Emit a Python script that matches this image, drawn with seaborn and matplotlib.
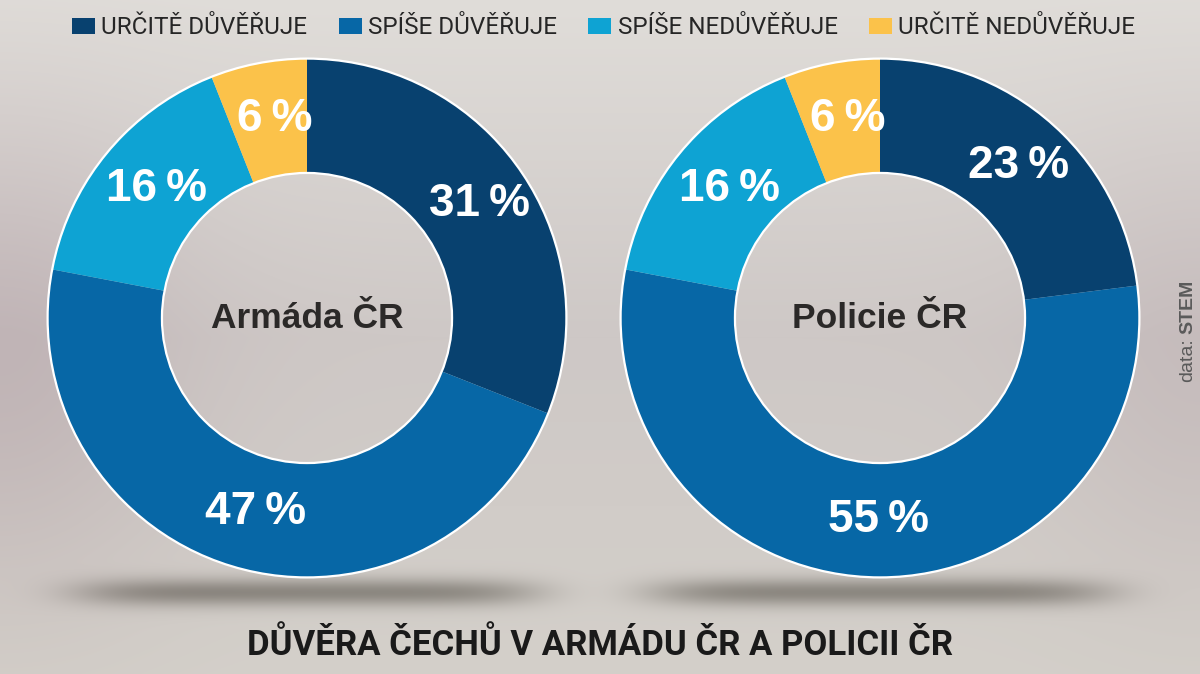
import numpy as np
import pandas as pd
import matplotlib
matplotlib.use("Agg")
import matplotlib.pyplot as plt
from matplotlib.patches import Patch, Circle
from matplotlib import font_manager as fm
import seaborn as sns

# ---- data ----
categories = ["URČITĚ DŮVĚŘUJE", "SPÍŠE DŮVĚŘUJE", "SPÍŠE NEDŮVĚŘUJE", "URČITĚ NEDŮVĚŘUJE"]
armada = [31, 47, 16, 6]
policie = [23, 55, 16, 6]
institutions = ["Armáda ČR", "Policie ČR"]
title = "DŮVĚRA ČECHŮ V ARMÁDU ČR A POLICII ČR"
source_prefix = "data: "
source_name = "STEM"

colors = ["#08416f", "#0767a6", "#0ea3d3", "#fbc24a"]

sns.set_theme(style="white")
names = {f.name for f in fm.fontManager.ttflist}
narrow = "Liberation Sans Narrow" if "Liberation Sans Narrow" in names else "Roboto"
main = "Liberation Sans" if "Liberation Sans" in names else "DejaVu Sans"
plt.rcParams["font.family"] = [main, "DejaVu Sans"]

W, H = 1200, 674
fig = plt.figure(figsize=(W / 100, H / 100), dpi=100)

# ---- background ----
yy, xx = np.mgrid[0:H, 0:W].astype(float)
top = np.array([224, 221, 217.0])
mid = np.array([206, 200, 198.0])
bot = np.array([212, 208, 202.0])
t = yy / H
bg = np.where(t[..., None] < 0.5,
              top + (mid - top) * (t[..., None] / 0.5),
              mid + (bot - mid) * ((t[..., None] - 0.5) / 0.5))
edge = np.exp(-((xx - 0) / 180) ** 2) + 0.6 * np.exp(-((xx - W) / 160) ** 2)
bg += edge[..., None] * np.array([-14, -20, -16.0]) * np.exp(-((yy - 360) / 240) ** 2)[..., None]
for cx in (307, 880):
    sh = np.exp(-((xx - cx) / 230) ** 6) * np.exp(-((yy - 592) / 14) ** 2)
    bg -= sh[..., None] * np.array([70, 70, 72.0])
bg = np.clip(bg, 0, 255) / 255
bgax = fig.add_axes([0, 0, 1, 1])
bgax.imshow(bg, aspect="auto", extent=[0, 1, 0, 1])
bgax.set_axis_off()

R_OUT = 1.0
R_IN = 146.5 / 262


def donut(values, center_px, label):
    cx, cy = center_px
    r = 262
    ax = fig.add_axes([(cx - r) / W, (H - cy - r) / H, 2 * r / W, 2 * r / H])
    df = pd.DataFrame({"cat": categories, "val": values})
    wedges, texts = ax.pie(df["val"], colors=colors, startangle=90, counterclock=False,
                           radius=R_OUT, wedgeprops=dict(width=R_OUT - R_IN, linewidth=0))
    for w, v in zip(wedges, df["val"]):
        ang = np.deg2rad((w.theta1 + w.theta2) / 2)
        rr = (R_OUT + R_IN) / 2
        ax.text(rr * np.cos(ang) + 0.02, rr * np.sin(ang), f"{v}\u2009%", ha="center", va="center",
                color="white", fontsize=33, fontweight="bold")
    ax.add_patch(Circle((0, 0), R_OUT, fill=False, ec="white", lw=1.6))
    ax.add_patch(Circle((0, 0), R_IN, fill=False, ec="white", lw=1.6))
    ax.text(0, 0, label, ha="center", va="center", fontsize=25.5, fontweight="bold", color="#2b2928")
    ax.set_xlim(-1.01, 1.01)
    ax.set_ylim(-1.01, 1.01)
    ax.set_axis_off()


donut(armada, (307, 318), institutions[0])
donut(policie, (880, 318), institutions[1])

# ---- legend ----
handles = [Patch(facecolor=c, edgecolor="none") for c in colors]
fig.legend(handles, categories, loc="center", bbox_to_anchor=(0.503, 1 - 28 / H), ncol=4,
           frameon=False, prop=dict(family=[narrow, "DejaVu Sans"], size=17.5),
           handlelength=0.95, handleheight=0.65, handletextpad=0.25, columnspacing=1.3)

# ---- title ----
fig.text(0.5, 1 - 645 / H, title, ha="center", va="center", fontsize=25, fontweight="bold",
         family=[narrow, "DejaVu Sans"], color="#1a1a1a")

# ---- source ----
fig.text(1188 / W, 1 - 338 / H, source_prefix.strip(), rotation=90, ha="center", va="top",
         fontsize=14, color="#5a5a5a")
fig.text(1188 / W, 1 - 334 / H, source_name, rotation=90, ha="center", va="bottom",
         fontsize=14, fontweight="bold", color="#5a5a5a")

fig.savefig("out.png", dpi=100)
